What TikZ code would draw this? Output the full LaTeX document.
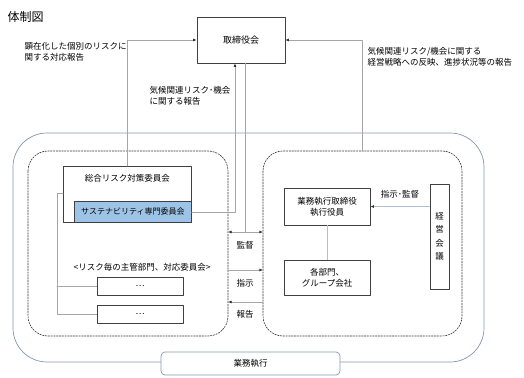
\documentclass[tikz,border=0pt]{standalone}
\usepackage{fontspec}
\setmainfont{Noto Sans CJK JP}
\usetikzlibrary{arrows.meta}
\definecolor{framegray}{HTML}{8497B0}
\definecolor{susblue}{HTML}{9DC3E6}
\definecolor{boxline}{HTML}{404040}
\definecolor{linegray}{HTML}{A6A6A6}
\definecolor{lineblue}{HTML}{ADC0D6}
\begin{document}
\begin{tikzpicture}[x=1pt,y=-1pt,>={Latex[length=3.6pt,width=3pt,color=black!80]},line cap=round,line join=round,
  font=\fontsize{8.5}{11}\selectfont,
  box/.style={draw=boxline,line width=0.7pt,fill=white,inner sep=1pt,align=center},
  panel/.style={draw=black!80,line width=0.6pt,dashed,dash pattern=on 1.6pt off 1.2pt,rounded corners=20pt},
  conn/.style={draw=linegray,line width=0.7pt}]
\useasboundingbox (0,0) rectangle (524,377);
% outer frame
\draw[framegray,line width=0.7pt,rounded corners=34pt] (13,133) rectangle (484,362);
\node[box,draw=framegray,rounded corners=4pt,minimum width=179pt,minimum height=23pt] (gyomu) at (250.5,363.5) {業務執行};
% dashed panels
\draw[panel] (28,151) rectangle (228,336);
\draw[panel] (263,151) rectangle (462,336);
% title
\node[anchor=west,font=\fontsize{12}{14}\selectfont] (title) at (4,17) {体制図};
% board
\node[box,minimum width=88pt,minimum height=46pt,font=\fontsize{9}{11}\selectfont] (board) at (241,40) {取締役会};
% left side
\node[box,minimum width=128pt,minimum height=56pt,anchor=north west] (sogo) at (63,166) {};
\node[below=5pt] (sogot) at (sogo.north) {総合リスク対策委員会};
\node[box,fill=susblue,minimum width=117pt,minimum height=21pt,anchor=south east,font=\fontsize{8}{10}\selectfont] (sus) at (sogo.south east) {サステナビリティ専門委員会};
\node (risk) at (142,267) {<リスク毎の主管部門、対応委員会>};
\node[box,minimum width=86pt,minimum height=18pt] (dots1) at (140,286) {…};
\node[box,minimum width=86pt,minimum height=18pt] (dots2) at (140,314) {…};
\coordinate (brT) at (57,193);
\draw[conn] (sogo.west|-brT) -- (brT) -- (brT|-dots2.west) -- (dots2.west);
\draw[conn] (brT|-dots1.west) -- (dots1.west);
% right side
\node[box,minimum width=86pt,minimum height=37pt] (exec) at (327,206.5) {業務執行取締役\\執行役員};
\node[box,minimum width=86pt,minimum height=35pt] (dept) at (327,277.5) {各部門、\\グループ会社};
\node[box,minimum width=19pt,minimum height=105pt,font=\fontsize{8.5}{13.5}\selectfont] (keiei) at (439.5,236.5) {経\\営\\会\\議};
\draw[lineblue,line width=0.7pt] (exec) -- (dept);
\draw[->,lineblue,line width=0.7pt] (keiei.west|-exec.east) -- (exec.east);
\node (shikan) at (400,194) {指示･監督};
% reports to board
\draw[conn,->] (sogo.north) |- (board.west);
\draw[conn,->] (sus.east) -| ([xshift=-6pt]board.south);
\coordinate (rtop) at (362,151);
\draw[conn,->] (rtop) |- (board.east);
\node[anchor=west,align=left] (lrep) at (21,52) {顕在化した個別のリスクに\\関する対応報告};
\node[anchor=west,align=left] (mrep) at (146,96) {気候関連リスク･機会\\に関する報告};
\node[anchor=west,align=left] (rrep) at (364,57) {気候関連リスク/機会に関する\\経営戦略への反映、進捗状況等の報告};
% between panels
\coordinate (kM) at (245,232);
\coordinate (kL) at (228,232);
\coordinate (kR) at (263,232);
\coordinate (sL) at (228,270);
\coordinate (sR) at (263,270);
\coordinate (hL) at (228,302);
\coordinate (hR) at (263,302);
\draw[conn] ([xshift=4pt]board.south) -- (kM);
\draw[conn,<->] (kL) -- (kR);
\draw[conn,->] (sL) -- (sR);
\draw[conn,->] (hR) -- (hL);
\node (kansa) at (245,245) {監督};
\node (shiji) at (245,283) {指示};
\node (hokoku) at (245,314) {報告};
\end{tikzpicture}
\end{document}
